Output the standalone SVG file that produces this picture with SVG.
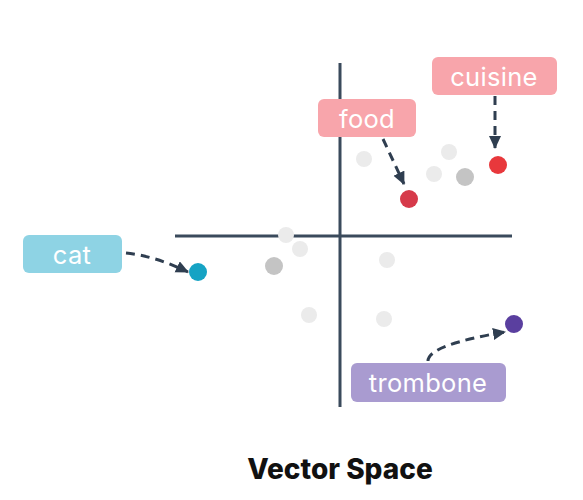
<svg xmlns="http://www.w3.org/2000/svg" width="583" height="500" viewBox="0 0 583 500">
<defs>
<marker id="ah" markerWidth="14" markerHeight="14" refX="12" refY="6" orient="auto" markerUnits="userSpaceOnUse">
<path d="M0,0 L13,6 L0,12 Z" fill="#2f3e50"/>
</marker>
<style>
.lbl{font-family:Inter,"Open Sans",sans-serif;font-size:25.5px;fill:#fff;text-anchor:middle;dominant-baseline:central;letter-spacing:0.3px}
.conn{fill:none;stroke:#2f3e50;stroke-width:3;stroke-dasharray:9 6;marker-end:url(#ah)}
.axis{stroke:#3a4a5c;stroke-width:3}
.lt{fill:#ebebeb}
.md{fill:#c4c4c4}
</style>
</defs>
<rect width="583" height="500" fill="#fff"/>
<g id="axes">
<line class="axis" x1="340" y1="63" x2="340" y2="407"/>
<line class="axis" x1="175" y1="236" x2="512" y2="236"/>
</g>
<g id="points">
<circle class="lt" cx="364" cy="159" r="8"/>
<circle class="lt" cx="449" cy="152" r="8"/>
<circle class="lt" cx="434" cy="174" r="8"/>
<circle class="md" cx="465" cy="177" r="9"/>
<circle class="lt" cx="286" cy="235" r="8"/>
<circle class="lt" cx="300" cy="249" r="8"/>
<circle class="md" cx="274" cy="266" r="9"/>
<circle class="lt" cx="387" cy="260" r="8"/>
<circle class="lt" cx="309" cy="315" r="8"/>
<circle class="lt" cx="384" cy="319" r="8"/>
</g>
<g id="connectors">
<path class="conn" d="M383,139 L404,184"/>
<path class="conn" d="M495,96 L495,148"/>
<path class="conn" d="M126,253 Q155,256 188,272"/>
<path class="conn" d="M428,361 Q428,345 505,332"/>
</g>
<g id="food">
<rect x="318" y="99" width="98" height="38" rx="6" fill="#f8a5ab"/>
<text class="lbl" x="367" y="118">food</text>
<circle cx="409" cy="199" r="9" fill="#d63a4a"/>
</g>
<g id="cuisine">
<rect x="432" y="57" width="125" height="38" rx="6" fill="#f8a5ab"/>
<text class="lbl" x="494" y="76">cuisine</text>
<circle cx="498" cy="165" r="9" fill="#e8383c"/>
</g>
<g id="cat">
<rect x="23" y="235" width="99" height="38" rx="6" fill="#8ed3e4"/>
<text class="lbl" x="72" y="254">cat</text>
<circle cx="198" cy="272" r="9" fill="#16a3c4"/>
</g>
<g id="trombone">
<rect x="351" y="363" width="155" height="39" rx="6" fill="#a99bd0"/>
<text class="lbl" x="428" y="382">trombone</text>
<circle cx="514" cy="324" r="9" fill="#5a3f9f"/>
</g>
<text x="340" y="469" font-family="Inter,'Liberation Sans',sans-serif" font-weight="800" font-size="28" text-anchor="middle" dominant-baseline="central" fill="#111">Vector Space</text>
</svg>
